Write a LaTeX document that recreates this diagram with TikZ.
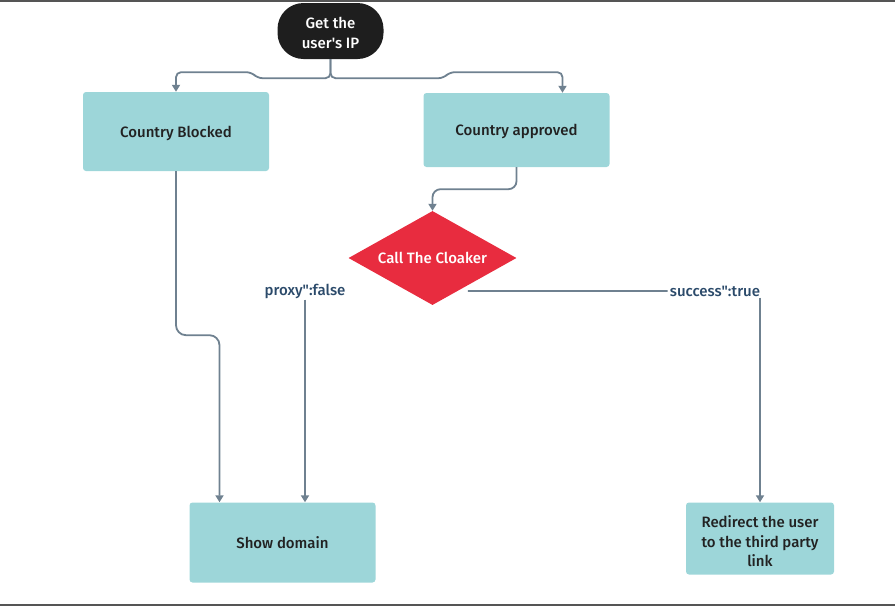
\documentclass[tikz,border=0pt]{standalone}
\usepackage{fontspec}
\newfontfamily\ff{Fira Sans}[BoldFont={Fira Sans Medium}]
\usetikzlibrary{arrows.meta,shapes.geometric,calc}
\definecolor{boxfill}{HTML}{9DD6D9}
\definecolor{conncol}{HTML}{6F8190}
\definecolor{pillcol}{HTML}{1E1E1E}
\definecolor{redcol}{HTML}{E82C3F}
\definecolor{lblcol}{HTML}{2B4A6A}
\definecolor{txtcol}{HTML}{222222}
\definecolor{edge}{HTML}{555555}
\begin{document}
\begin{tikzpicture}[x=1pt,y=-1pt,
  box/.style={rectangle, fill=boxfill, rounded corners=3pt, text=txtcol, align=center,
    font=\ff\bfseries\fontsize{15}{19.5}\selectfont, inner sep=0pt, text depth=0pt},
  pill/.style={rectangle, fill=pillcol, rounded corners=26pt, text=white, align=center,
    font=\ff\bfseries\fontsize{15}{20}\selectfont, inner sep=0pt, text depth=0pt, text height=35pt},
  decision/.style={diamond, fill=redcol, text=white, inner sep=0pt, aspect=1.79,
    font=\ff\bfseries\fontsize{15}{18}\selectfont},
  lbl/.style={text=lblcol, font=\ff\bfseries\fontsize{15}{18}\selectfont, inner sep=2pt},
  conn/.style={draw=conncol, line width=1.8pt, rounded corners=6pt},
  arr/.style={conn, -{Triangle[width=8pt,length=7pt]}}]
\useasboundingbox (0,0) rectangle (895,606);
\fill[edge] (0,0) rectangle (895,2);
\fill[edge] (0,603.5) rectangle (895,606);

\node[pill, minimum width=106pt, minimum height=56pt] (ip) at (330.5,31) {Get the\\user's IP};
\node[box, minimum width=186pt, minimum height=79pt] (cb) at (176,131.5) {Country Blocked};
\node[box, minimum width=186pt, minimum height=74pt] (ca) at (516.5,130) {Country approved};
\node[decision, minimum width=168pt, minimum height=94pt] (dm) at (432.5,258) {Call The Cloaker};
\node[lbl] (lproxy) at (305,291) {proxy":false};
\node[lbl] (lsucc) at (715,291) {success":true};
\node[box, minimum width=186pt, minimum height=80pt] (show) at (282.5,542.5) {Show domain};
\node[box, minimum width=148pt, minimum height=72pt, text height=56pt] (redir) at (760,538.5) {Redirect the user\\to the third party\\link};

\draw[arr, rounded corners=5pt] (ip.south) -- ++(0,19) -- ++(-73,0) -- ++(-6,-6) -| (cb.north);
\draw[arr, rounded corners=5pt] (ip.south) -- ++(0,19) -- ++(113,0) -- ++(6,-6) -| ([xshift=46pt]ca.north);
\draw[arr, rounded corners=8pt] (ca.south) -- ++(0,22) -| (dm.north);
\draw[arr, rounded corners=10pt] (cb.south) -- ++(0,164) -| ([xshift=-63pt]show.north);
\draw[conn] ($(dm.west)!0.57!(dm.south)$) -- ($(dm.west)!0.57!(dm.south)$ -| lproxy.east);
\draw[arr] ([yshift=1pt]lproxy.south) -- (lproxy.south |- show.north);
\draw[conn, shorten <=10pt] ($(dm.east)!0.7!(dm.south)$) -- (lsucc.west);
\draw[arr] ([yshift=1pt]lsucc.south -| redir.north) -- (redir.north);
\end{tikzpicture}
\end{document}
